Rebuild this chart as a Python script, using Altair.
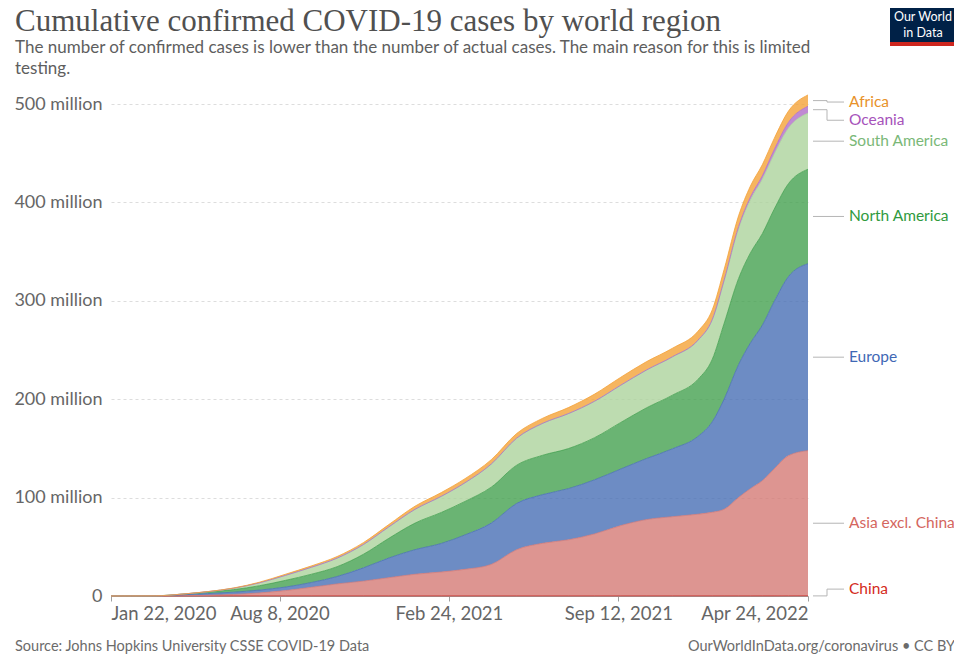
import altair as alt
import pandas as pd
import numpy as np

# ---------------- data (millions of cumulative confirmed cases) ----------------
DATES = ["2020-01-22", "2020-02-15", "2020-03-15", "2020-04-15", "2020-05-15", "2020-06-15",
         "2020-07-15", "2020-08-15", "2020-09-15", "2020-10-15", "2020-11-15", "2020-12-15",
         "2021-01-15", "2021-02-15", "2021-03-15", "2021-04-15", "2021-05-15", "2021-06-15",
         "2021-07-15", "2021-08-15", "2021-09-15", "2021-10-15", "2021-11-15", "2021-12-15",
         "2022-01-01", "2022-01-15", "2022-02-01", "2022-02-15", "2022-03-01", "2022-03-15",
         "2022-04-01", "2022-04-24"]

REGIONS = ["China", "Asia excl. China", "Europe", "North America", "South America", "Oceania", "Africa"]

CHINA = [0.0006, 0.068, 0.081, 0.083, 0.084, 0.084, 0.085, 0.085, 0.086, 0.086, 0.087, 0.087,
         0.088, 0.089, 0.090, 0.090, 0.091, 0.092, 0.093, 0.094, 0.096, 0.097, 0.098, 0.100,
         0.103, 0.105, 0.107, 0.108, 0.112, 0.125, 0.160, 0.210]
ASIA = [0.0, 0.001, 0.02, 0.18, 0.6, 1.5, 3.0, 5.4, 8.8, 12.2, 15.0, 18.5,
        22.0, 24.3, 27.0, 32.0, 47.0, 53.5, 57.0, 63.0, 71.5, 77.5, 80.5, 83.0,
        85.0, 88.0, 100.0, 109.0, 117.0, 129.0, 142.5, 147.5]
EUROPE = [0.0, 0.00005, 0.06, 0.95, 1.75, 2.3, 2.9, 3.6, 4.9, 7.5, 13.5, 20.0,
          25.0, 29.0, 35.0, 42.0, 47.0, 49.5, 52.0, 55.0, 57.5, 62.0, 69.0, 79.0,
          92.0, 112.0, 135.0, 148.0, 158.0, 170.0, 182.0, 190.0]
NORTH_AMERICA = [0.0, 0.00002, 0.004, 0.68, 1.6, 2.6, 4.4, 6.8, 8.4, 10.0, 13.8, 20.0,
                 27.0, 31.5, 34.0, 36.5, 38.8, 40.0, 40.7, 42.8, 47.3, 51.5, 54.5, 58.0,
                 63.5, 77.0, 87.5, 91.5, 93.0, 93.8, 94.5, 96.0]
SOUTH_AMERICA = [0.0, 0.0, 0.0004, 0.05, 0.35, 1.45, 2.95, 5.1, 7.1, 8.7, 9.9, 11.6,
                 14.0, 16.4, 19.0, 23.5, 27.5, 32.5, 35.5, 37.0, 37.8, 38.3, 38.8, 39.5,
                 40.0, 43.0, 50.5, 54.0, 55.3, 56.0, 56.5, 57.0]
OCEANIA = [0.0, 0.000015, 0.0003, 0.008, 0.0087, 0.009, 0.011, 0.026, 0.029, 0.030, 0.031, 0.033,
           0.035, 0.037, 0.039, 0.041, 0.043, 0.045, 0.052, 0.075, 0.13, 0.2, 0.3, 0.37,
           0.55, 1.2, 2.2, 2.8, 3.5, 4.5, 5.8, 7.0]
AFRICA = [0.0, 0.000001, 0.0005, 0.017, 0.075, 0.24, 0.62, 1.1, 1.35, 1.6, 1.9, 2.35,
          3.15, 3.8, 4.1, 4.4, 4.7, 5.1, 6.1, 7.2, 8.0, 8.4, 8.6, 9.0,
          9.8, 10.7, 11.0, 11.2, 11.3, 11.35, 11.4, 11.5]

SERIES = [CHINA, ASIA, EUROPE, NORTH_AMERICA, SOUTH_AMERICA, OCEANIA, AFRICA]

Y_TICKS = [0, 100, 200, 300, 400, 500]
X_TICKS = [(2020, 1, 22), (2020, 8, 8), (2021, 2, 24), (2021, 9, 12), (2022, 4, 24)]

TITLE = "Cumulative confirmed COVID-19 cases by world region"
SUBTITLE = ["The number of confirmed cases is lower than the number of actual cases. The main reason for this is limited",
            "testing."]
SOURCE = "Source: Johns Hopkins University CSSE COVID-19 Data"
CREDIT = "OurWorldInData.org/coronavirus • CC BY"

# ---------------- styles ----------------
BASE = ["#c8302a", "#d57a76", "#486fb5", "#45a150", "#acd39c", "#b06dc8", "#f4a238"]
LABEL_COLORS = ["#d42b21", "#d4665e", "#3f68b5", "#2f9a3e", "#7ab877", "#a652ba", "#e8922a"]

W, H = 697, 492
FONT = "Lato"

# ---------------- tables ----------------
rows = []
for k, (reg, ser) in enumerate(zip(REGIONS, SERIES)):
    for d, v in zip(DATES, ser):
        rows.append({"date": d + "T00:00:00", "region": reg, "value": v, "ord": k})
df = pd.DataFrame(rows)

ends = np.array([s[-1] for s in SERIES])
cum = np.cumsum(ends)
mids = cum - ends / 2.0
GAP, FLOOR, CAP = 18.5, 7.0, 502.0
lab = mids.copy()
lab[0] = max(lab[0], FLOOR)
for i in range(1, len(lab)):
    lab[i] = max(lab[i], lab[i - 1] + GAP)
lab[-1] = min(lab[-1], CAP)
for i in range(len(lab) - 2, -1, -1):
    lab[i] = min(lab[i], lab[i + 1] - GAP)
labels_df = pd.DataFrame({"region": REGIONS, "mid": mids, "label_y": lab, "lcolor": LABEL_COLORS})

def dt(t):
    return alt.DateTime(year=t[0], month=t[1], date=t[2])

x_enc = alt.X("date:T",
              scale=alt.Scale(domain=[dt(X_TICKS[0]), dt(X_TICKS[-1])]),
              axis=alt.Axis(values=[dt(t) for t in X_TICKS], format="%b %-d, %Y", labelFlush=True,
                            labelOverlap=False, grid=False, domainColor="#a0a0a0", tickColor="#a0a0a0",
                            tickSize=5, labelFontSize=18.5, labelColor="#666666", labelFont=FONT,
                            labelPadding=3, title=None))
y_scale = alt.Scale(domain=[0, 500], nice=False, zero=True)
y_axis = alt.Axis(values=Y_TICKS, labelExpr="datum.value == 0 ? '0' : datum.value + ' million'",
                  grid=True, gridDash=[3, 3], gridColor="#dddddd", domain=False, ticks=False,
                  labelFontSize=18, labelColor="#666666", labelFont=FONT, labelPadding=9,
                  title=None)

areas = alt.Chart(df).mark_area(
    interpolate="monotone", fillOpacity=0.8, line=alt.OverlayMarkDef(strokeWidth=0.8)
).encode(
    x=x_enc,
    y=alt.Y("value:Q", stack="zero", scale=y_scale, axis=y_axis),
    color=alt.Color("region:N", scale=alt.Scale(domain=REGIONS, range=BASE), legend=None),
    order=alt.Order("ord:Q"),
)

lab_base = alt.Chart(labels_df)
conn_color = "#b5b5b5"
conn1 = lab_base.mark_rule(color=conn_color, strokeWidth=1).encode(
    x=alt.value(W + 5), x2=alt.value(W + 19), y=alt.Y("mid:Q", scale=y_scale, axis=y_axis))
conn2 = lab_base.mark_rule(color=conn_color, strokeWidth=1).encode(
    x=alt.value(W + 19), y=alt.Y("mid:Q", scale=y_scale, axis=y_axis), y2="label_y:Q")
conn3 = lab_base.mark_rule(color=conn_color, strokeWidth=1).encode(
    x=alt.value(W + 19), x2=alt.value(W + 36), y=alt.Y("label_y:Q", scale=y_scale, axis=y_axis))
label_text = lab_base.mark_text(align="left", baseline="middle", fontSize=15.5, font=FONT).encode(
    x=alt.value(W + 41), y=alt.Y("label_y:Q", scale=y_scale, axis=y_axis), text="region:N",
    color=alt.Color("lcolor:N", scale=None))

def txt(s, x, y, **kw):
    return alt.Chart(pd.DataFrame({"t": [s]})).mark_text(**kw).encode(
        text="t:N", x=alt.value(x), y=alt.value(y))

title = txt(TITLE, -96, -73, align="left", baseline="alphabetic", font="Liberation Serif",
            fontSize=31, color="#505050")
sub1 = txt(SUBTITLE[0], -96, -51, align="left", baseline="alphabetic", font=FONT,
           fontSize=17, color="#5e5e5e")
sub2 = txt(SUBTITLE[1], -96, -30, align="left", baseline="alphabetic", font=FONT,
           fontSize=17, color="#5e5e5e")

logo_bg = alt.Chart(pd.DataFrame({"t": [0]})).mark_rect(color="#002147").encode(
    x=alt.value(779), x2=alt.value(845), y=alt.value(-96), y2=alt.value(-62))
logo_red = alt.Chart(pd.DataFrame({"t": [0]})).mark_rect(color="#ce261e").encode(
    x=alt.value(779), x2=alt.value(845), y=alt.value(-62), y2=alt.value(-58))
logo1 = txt("Our World", 812, -87, align="center", baseline="middle", font=FONT, fontSize=12.5, color="white")
logo2 = txt("in Data", 812, -71, align="center", baseline="middle", font=FONT, fontSize=12.5, color="white")

foot1 = txt(SOURCE, -96, 543, align="left", baseline="middle", font=FONT, fontSize=14.5, color="#6b6b6b")
foot2 = txt(CREDIT, 844, 543, align="right", baseline="middle", font=FONT, fontSize=14.5, color="#6b6b6b")

chart = alt.layer(
    areas, conn1, conn2, conn3, label_text, title, sub1, sub2,
    logo_bg, logo_red, logo1, logo2, foot1, foot2
).properties(
    width=W, height=H,
    autosize=alt.AutoSizeParams(type="none"),
    padding={"left": 103, "top": 96, "right": 146, "bottom": 59},
).configure_view(stroke=None)

chart.save("out.html", embed_options={"renderer": "svg", "actions": False})
